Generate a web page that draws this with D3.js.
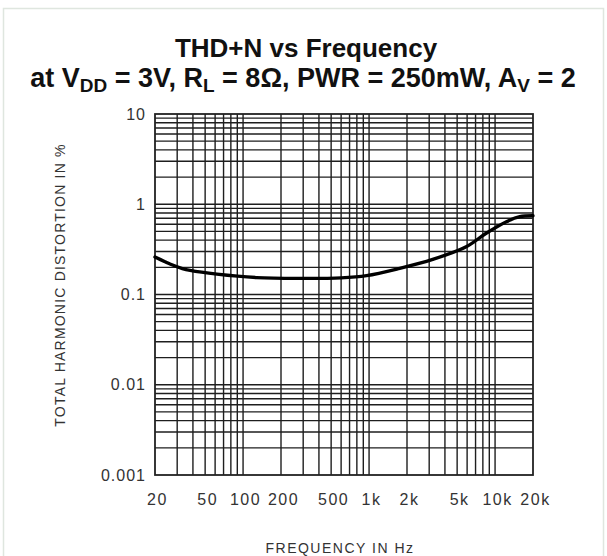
<!DOCTYPE html>
<html>
<head>
<meta charset="utf-8">
<script src="https://cdn.jsdelivr.net/npm/d3@7"></script>
<style>
  html, body { margin: 0; padding: 0; background: #fff; }
  svg { display: block; }
</style>
</head>
<body>
<svg id="chart" width="607" height="556"></svg>
<script>
// THD+N measured curve (frequency in Hz, distortion in %)
const freqHz = [20, 24, 26.3, 33, 38, 62, 128, 282, 600, 955, 1750, 3200, 5900, 8500, 12300, 15700, 20000];
const thdPct = [0.26, 0.231, 0.218, 0.194, 0.185, 0.168, 0.154, 0.151, 0.153, 0.162, 0.195, 0.245, 0.338, 0.477, 0.641, 0.728, 0.745];

// Axis tick labels
const xTickValues = [20, 50, 100, 200, 500, 1000, 2000, 5000, 10000, 20000];
const xTickLabels = ["20", "50", "100", "200", "500", "1k", "2k", "5k", "10k", "20k"];
const yTickValues = [10, 1, 0.1, 0.01, 0.001];
const yTickLabels = ["10", "1", "0.1", "0.01", "0.001"];

const svg = d3.select("#chart");
const plot = { left: 155, top: 114, right: 533, bottom: 475 };

// faint outer panel frame
svg.append("rect")
  .attr("x", 3.5).attr("y", 8.5).attr("width", 600).attr("height", 560)
  .attr("fill", "none").attr("stroke", "#dfe6df").attr("stroke-width", 1.5);

const x = d3.scaleLog().domain([20, 20000]).range([plot.left, plot.right]);
const y = d3.scaleLog().domain([0.001, 10]).range([plot.bottom, plot.top]);

// Log grid: 1..9 in each decade
const xGrid = [];
for (let dec = 10; dec <= 10000; dec *= 10)
  for (let m = 1; m <= 9; m++) {
    const v = m * dec;
    if (v > 20 && v < 20000) xGrid.push(v);
  }
const yGrid = [];
for (let dec = 0.001; dec < 10; dec *= 10)
  for (let m = 1; m <= 9; m++) {
    const v = +(m * dec).toPrecision(3);
    if (v > 0.001 && v < 10) yGrid.push(v);
  }

const g = svg.append("g");
g.selectAll("line.vx").data(xGrid).join("line")
  .attr("class", "vx")
  .attr("x1", d => x(d)).attr("x2", d => x(d))
  .attr("y1", plot.top).attr("y2", plot.bottom)
  .attr("stroke", "#1e1e1e").attr("stroke-width", 1.4);
g.selectAll("line.hy").data(yGrid).join("line")
  .attr("class", "hy")
  .attr("y1", d => y(d)).attr("y2", d => y(d))
  .attr("x1", plot.left).attr("x2", plot.right)
  .attr("stroke", "#1e1e1e").attr("stroke-width", 1.4);

// plot frame
g.append("rect")
  .attr("x", plot.left).attr("y", plot.top)
  .attr("width", plot.right - plot.left).attr("height", plot.bottom - plot.top)
  .attr("fill", "none").attr("stroke", "#222").attr("stroke-width", 1.8);

// Axes (labels only; grid supplies the tick lines)
const xAxis = d3.axisBottom(x).tickValues(xTickValues)
  .tickFormat((d, i) => xTickLabels[i]).tickSize(0).tickPadding(0);
const xa = svg.append("g").attr("transform", `translate(2,${plot.bottom + 18})`).call(xAxis);
xa.select(".domain").remove();
xa.selectAll("text")
  .attr("font-family", "'Liberation Sans', Arial, sans-serif")
  .attr("font-size", 16).attr("letter-spacing", 1.5)
  .attr("fill", "#333").attr("dy", "0.72em");

const yAxis = d3.axisLeft(y).tickValues(yTickValues)
  .tickFormat((d, i) => yTickLabels[i]).tickSize(0).tickPadding(0);
const ya = svg.append("g").attr("transform", `translate(${plot.left - 9},0)`).call(yAxis);
ya.select(".domain").remove();
ya.selectAll("text")
  .attr("font-family", "'Liberation Sans', Arial, sans-serif")
  .attr("font-size", 16).attr("letter-spacing", 1)
  .attr("fill", "#333");

// THD+N curve
const line = d3.line()
  .x((d, i) => x(freqHz[i]))
  .y((d, i) => y(thdPct[i]))
  .curve(d3.curveCatmullRom.alpha(0.5));
svg.append("path")
  .attr("d", line(thdPct))
  .attr("fill", "none").attr("stroke", "#000")
  .attr("stroke-width", 3.4).attr("stroke-linejoin", "round").attr("stroke-linecap", "round");

// Titles
const title = svg.append("g")
  .attr("font-family", "'Liberation Sans', Arial, sans-serif")
  .attr("font-weight", "bold").attr("fill", "#111").attr("text-anchor", "middle");
title.append("text").attr("x", 306).attr("y", 57).attr("font-size", 26)
  .text("THD+N vs Frequency");
const t2 = title.append("text").attr("x", 303).attr("y", 87).attr("font-size", 27);
t2.append("tspan").text("at V");
t2.append("tspan").attr("font-size", 19).attr("dy", 5).text("DD");
t2.append("tspan").attr("dy", -5).text(" = 3V, R");
t2.append("tspan").attr("font-size", 19).attr("dy", 5).text("L");
t2.append("tspan").attr("dy", -5).text(" = 8Ω, PWR = 250mW, A");
t2.append("tspan").attr("font-size", 19).attr("dy", 5).text("V");
t2.append("tspan").attr("dy", -5).text(" = 2");

// Axis titles
svg.append("text")
  .attr("transform", `translate(65,285) rotate(-90)`)
  .attr("text-anchor", "middle")
  .attr("font-family", "'Liberation Sans', Arial, sans-serif")
  .attr("font-size", 14).attr("letter-spacing", 1.2).attr("fill", "#333")
  .text("TOTAL HARMONIC DISTORTION IN %");
svg.append("text")
  .attr("x", 340).attr("y", 553)
  .attr("text-anchor", "middle")
  .attr("font-family", "'Liberation Sans', Arial, sans-serif")
  .attr("font-size", 14).attr("letter-spacing", 1.5).attr("fill", "#333")
  .text("FREQUENCY IN Hz");
</script>
</body>
</html>
